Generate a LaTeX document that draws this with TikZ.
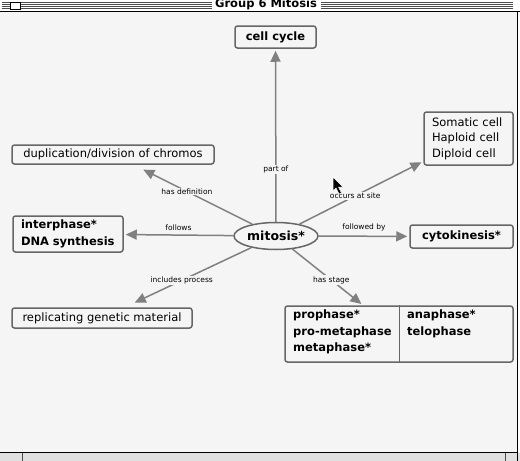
\documentclass[tikz,border=0pt]{standalone}
\usepackage{fontspec}
\setmainfont{DejaVu Sans}
\usetikzlibrary{shapes.geometric,arrows.meta}
\definecolor{bg}{HTML}{F5F5F5}
\definecolor{lk}{HTML}{808080}
\definecolor{bx}{HTML}{666666}
\tikzset{
  concept/.style={draw=bx,line width=1.5pt,rounded corners=2.5pt,fill=bg,inner sep=3pt,align=left},
  hot/.style={concept,font=\bfseries\fontsize{11.5}{16.5}\selectfont},
  plain/.style={concept,font=\fontsize{11.5}{15.5}\selectfont},
  link/.style={draw=lk,line width=1.5pt,-{Triangle[length=11pt,width=10pt]},shorten >=2pt},
  lbl/.style={fill=bg,inner sep=1pt,font=\fontsize{7.5}{8}\selectfont}
}
\begin{document}
\begin{tikzpicture}[x=1pt,y=-1pt]
\useasboundingbox (0,0) rectangle (520,461);
\clip (0,0) rectangle (520,461);
%\draw[step=20,gray,very thin] (0,0) grid (520,461); %background grid
\fill[white] (0,0) rectangle (520,461);
\fill[bg] (0,12) rectangle (517,452);
\fill[black!12] (0,453) rectangle (520,461);
%--------------------------------------------------- window frame
\foreach \yy in {2.3,4.3,6.3,8.3}{
  \draw[black!70,line width=0.6pt] (2,\yy) -- (212,\yy);
  \draw[black!70,line width=0.6pt] (321,\yy) -- (513,\yy);
}
\draw[black,fill=white,line width=0.6pt] (10,2) rectangle (20,9);
\draw[black,line width=0.8pt] (0,11.3) -- (520,11.3);
\draw[black,line width=0.8pt] (517.3,11.3) -- (517.3,461);
\draw[black,line width=0.8pt] (0,452.5) -- (517.3,452.5);
\draw[black!70,line width=0.5pt] (22,453) -- (22,461);
\draw[black!70,line width=0.5pt] (505,453) -- (505,461);
\node[anchor=base,inner sep=0pt,font=\bfseries\fontsize{11.5}{12}\selectfont] (title) at (266,7.6) {Group 6 Mitosis};
%--------------------------------------------------- concepts
\node[ellipse,draw=bx,line width=1.5pt,fill=bg,minimum width=84,minimum height=27,inner sep=0pt,
      font=\bfseries\fontsize{12.5}{14}\selectfont] (mitosis) at (276,236) {mitosis*};
\node[hot,minimum width=81,minimum height=22] (cellcycle) at (275.5,37) {cell cycle};
\node[plain,minimum width=202,minimum height=19] (definition) at (113,154.5) {duplication/division of chromos};
\node[hot,minimum width=110,minimum height=36,text width=94] (interphase) at (68,234) {interphase*\\DNA synthesis};
\node[hot,minimum width=103,minimum height=23] (cytokinesis) at (461.5,236.5) {cytokinesis*};
\node[plain,minimum width=89,minimum height=53,text width=73] (site) at (468.5,138.5) {Somatic cell\\Haploid cell\\Diploid cell};
\node[plain,minimum width=180,minimum height=20] (replicating) at (102,318) {replicating genetic material};
\node[concept,minimum width=228,minimum height=56] (stages) at (399,334) {};
\draw[bx,line width=1pt] (stages.north) -- (stages.south);
\node[anchor=north west,align=left,inner sep=0pt,font=\bfseries\fontsize{11.5}{16.5}\selectfont] (early) at (293,310) {prophase*\\pro-metaphase\\metaphase*};
\node[anchor=north west,align=left,inner sep=0pt,font=\bfseries\fontsize{11.5}{16.5}\selectfont] (late) at (407,310) {anaphase*\\telophase};
%--------------------------------------------------- links
\draw[link] (mitosis) -- node[lbl,pos=0.3] {part of} (cellcycle);
\draw[link,shorten >=11pt] (mitosis) -- node[lbl,pos=0.55] {has definition} (definition);
\draw[link] (mitosis) -- node[lbl,above=3pt,pos=0.5,fill=none] {follows} (interphase);
\draw[link,shorten >=11pt] (mitosis) -- node[lbl,pos=0.55] {includes process} (replicating);
\draw[link] (mitosis) -- node[lbl,pos=0.55] {has stage} (stages);
\draw[link] (mitosis) -- node[lbl,pos=0.45] {occurs at site} (site);
\draw[link] (mitosis) -- node[lbl,above=3pt,pos=0.5,fill=none] {followed by} (cytokinesis);
%--------------------------------------------------- pointer
\draw[white,fill=black,line width=0.5pt] (333,177) -- (333,191) -- (336,188) -- (339,194) -- (341.5,193) -- (338.5,187) -- (343,187) -- cycle;
\end{tikzpicture}
\end{document}
